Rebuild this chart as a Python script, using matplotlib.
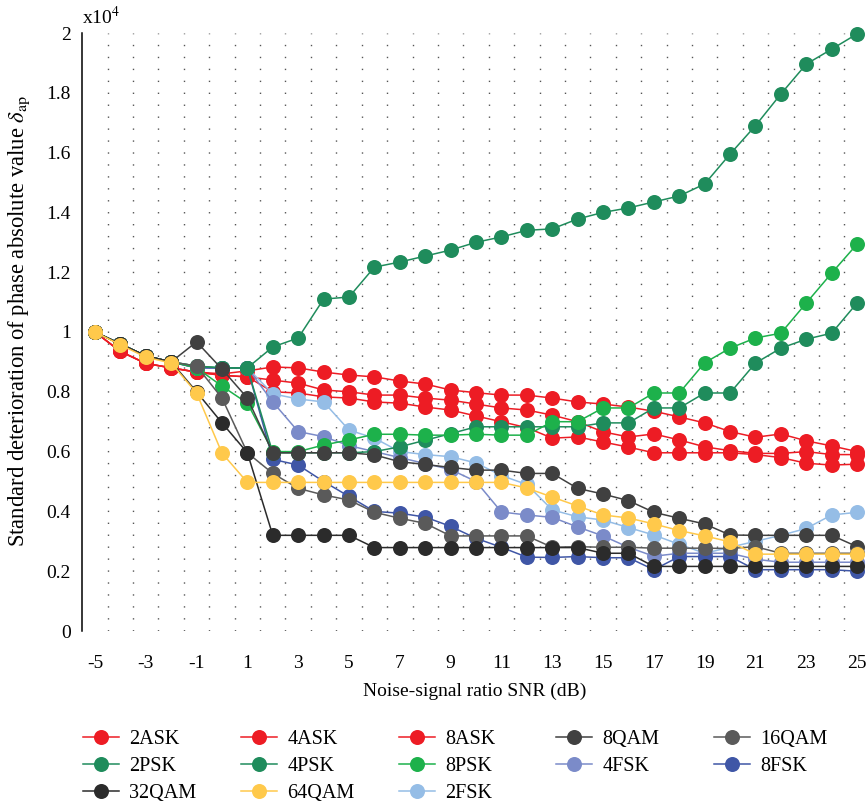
import numpy as np
import matplotlib.pyplot as plt
from matplotlib.lines import Line2D

plt.rcParams['font.family'] = ['Liberation Serif', 'DejaVu Serif']
plt.rcParams['mathtext.fontset'] = 'stix'

snr = list(range(-5, 26))

# values in units of 1e4
ask2 = [1.0, 0.935, 0.895, 0.88, 0.866, 0.86, 0.87, 0.883, 0.88, 0.866, 0.856, 0.85, 0.836, 0.826, 0.806, 0.797,
        0.789, 0.789, 0.779, 0.766, 0.759, 0.749, 0.735, 0.716, 0.696, 0.667, 0.648, 0.659, 0.636, 0.619, 0.60]
ask4 = [1.0, 0.935, 0.895, 0.88, 0.866, 0.855, 0.85, 0.839, 0.829, 0.806, 0.80, 0.789, 0.789, 0.779, 0.772, 0.759,
        0.746, 0.739, 0.722, 0.70, 0.666, 0.649, 0.659, 0.639, 0.616, 0.603, 0.594, 0.594, 0.60, 0.59, 0.59]
ask8 = [1.0, 0.935, 0.895, 0.88, 0.866, 0.855, 0.85, 0.80, 0.796, 0.783, 0.779, 0.766, 0.762, 0.749, 0.739, 0.719,
        0.70, 0.68, 0.645, 0.649, 0.632, 0.615, 0.596, 0.596, 0.596, 0.596, 0.59, 0.58, 0.561, 0.555, 0.558]
psk2 = [1.0, 0.96, 0.92, 0.90, 0.886, 0.88, 0.88, 0.95, 0.98, 1.11, 1.117, 1.217, 1.234, 1.254, 1.274, 1.30,
        1.318, 1.34, 1.345, 1.378, 1.40, 1.415, 1.435, 1.455, 1.495, 1.595, 1.69, 1.796, 1.896, 1.946, 1.997]
psk4 = [1.0, 0.96, 0.92, 0.90, 0.886, 0.88, 0.88, 0.596, 0.596, 0.596, 0.596, 0.60, 0.616, 0.638, 0.66, 0.683,
        0.683, 0.683, 0.683, 0.683, 0.696, 0.696, 0.746, 0.746, 0.796, 0.796, 0.896, 0.946, 0.976, 0.996, 1.097]
psk8 = [1.0, 0.96, 0.92, 0.90, 0.88, 0.819, 0.762, 0.60, 0.60, 0.622, 0.639, 0.658, 0.658, 0.655, 0.655, 0.658,
        0.655, 0.655, 0.70, 0.70, 0.746, 0.746, 0.796, 0.796, 0.897, 0.946, 0.98, 0.996, 1.097, 1.197, 1.294]
qam8 = [1.0, 0.96, 0.92, 0.90, 0.967, 0.876, 0.779, 0.596, 0.596, 0.596, 0.596, 0.589, 0.566, 0.557, 0.547, 0.538,
        0.538, 0.527, 0.527, 0.477, 0.458, 0.436, 0.397, 0.377, 0.358, 0.321, 0.32, 0.32, 0.32, 0.32, 0.282]
qam16 = [1.0, 0.96, 0.92, 0.90, 0.886, 0.779, 0.596, 0.527, 0.477, 0.455, 0.438, 0.397, 0.377, 0.36, 0.318, 0.318,
         0.318, 0.318, 0.28, 0.282, 0.28, 0.28, 0.277, 0.277, 0.277, 0.276, 0.282, 0.26, 0.26, 0.26, 0.26]
qam32 = [1.0, 0.96, 0.92, 0.90, 0.80, 0.696, 0.596, 0.32, 0.32, 0.32, 0.32, 0.279, 0.279, 0.279, 0.279, 0.279,
         0.279, 0.279, 0.279, 0.279, 0.26, 0.26, 0.216, 0.216, 0.216, 0.216, 0.216, 0.216, 0.216, 0.216, 0.216]
qam64 = [1.0, 0.957, 0.916, 0.896, 0.796, 0.595, 0.497, 0.497, 0.497, 0.497, 0.497, 0.497, 0.497, 0.497, 0.497, 0.497,
         0.497, 0.478, 0.448, 0.418, 0.388, 0.378, 0.358, 0.336, 0.318, 0.298, 0.257, 0.257, 0.257, 0.257, 0.257]
fsk2 = [1.0, 0.96, 0.92, 0.90, 0.88, 0.88, 0.88, 0.793, 0.776, 0.766, 0.672, 0.645, 0.60, 0.59, 0.583, 0.562,
        0.52, 0.49, 0.405, 0.382, 0.371, 0.346, 0.321, 0.29, 0.26, 0.28, 0.30, 0.32, 0.343, 0.388, 0.397]
fsk4 = [1.0, 0.96, 0.92, 0.90, 0.88, 0.88, 0.88, 0.766, 0.667, 0.65, 0.62, 0.60, 0.58, 0.56, 0.54, 0.50,
        0.398, 0.388, 0.38, 0.348, 0.318, 0.28, 0.25, 0.26, 0.26, 0.26, 0.24, 0.23, 0.23, 0.23, 0.23]
fsk8 = [1.0, 0.96, 0.92, 0.90, 0.88, 0.88, 0.88, 0.574, 0.555, 0.50, 0.45, 0.40, 0.394, 0.381, 0.35, 0.31,
        0.28, 0.247, 0.246, 0.249, 0.245, 0.245, 0.205, 0.249, 0.249, 0.249, 0.205, 0.205, 0.205, 0.205, 0.20]

RED = '#ED1C24'
DGREEN = '#1F8C5C'
LGREEN = '#1DB14B'

# name -> (values, colour); dict order is the drawing order
series = {
    '2ASK': (ask2, RED),
    '4ASK': (ask4, RED),
    '8ASK': (ask8, RED),
    '2FSK': (fsk2, '#95BDE6'),
    '4FSK': (fsk4, '#7B8BC9'),
    '8FSK': (fsk8, '#3F56A6'),
    '2PSK': (psk2, DGREEN),
    '4PSK': (psk4, DGREEN),
    '8PSK': (psk8, LGREEN),
    '8QAM': (qam8, '#404040'),
    '16QAM': (qam16, '#5A5A5A'),
    '32QAM': (qam32, '#2B2B2B'),
    '64QAM': (qam64, '#FFC94B'),
}

legend_cols = [['2ASK', '2PSK', '32QAM'],
               ['4ASK', '4PSK', '64QAM'],
               ['8ASK', '8PSK', '2FSK'],
               ['8QAM', '4FSK'],
               ['16QAM', '8FSK']]

W, H = 867, 808
fig = plt.figure(figsize=(W / 100, H / 100), dpi=100)
ax = fig.add_axes([82 / W, (H - 631) / H, 785 / W, 598 / H])

# dotted vertical guides between the SNR steps
for xv in np.arange(-4.5, 25, 1.0):
    ax.axvline(xv, color='#555555', lw=1.0, linestyle=(0, (1.0, 7.6)), zorder=0)

for name, (vals, col) in series.items():
    ax.plot(snr, vals, color=col, lw=1.1, marker='o', ms=10.8, mew=0,
            clip_on=False, zorder=2)

ax.set_xlim(-5.51, 25.39)
ax.set_ylim(0, 2.0)
for s in ['top', 'right', 'bottom']:
    ax.spines[s].set_visible(False)
ax.spines['left'].set_linewidth(1.1)

yt = np.round(np.arange(0, 2.01, 0.2), 1)
ax.set_yticks(yt)
ax.set_yticklabels([('%g' % v) for v in yt], fontsize=14)
ax.set_xticks(range(-5, 26, 2))
ax.set_xticklabels([str(v) for v in range(-5, 26, 2)], fontsize=14)
ax.tick_params(axis='y', length=0, pad=8)
ax.tick_params(axis='x', length=0, pad=17)
ax.set_xlabel('Noise-signal ratio SNR (dB)', fontsize=14, labelpad=8)

fig.text(19 / W, 1 - 321 / H, r'Standard deterioration of phase absolute value $\delta_{\mathrm{ap}}$',
         rotation=90, ha='center', va='center', fontsize=16.3)
fig.text(82 / W, 1 - 24 / H, r'x10$^4$', ha='left', va='baseline', fontsize=14)

col_x = [83, 241, 399, 556, 714]
for cx, names in zip(col_x, legend_cols):
    handles = [Line2D([], [], color=series[n][1], lw=1.1, marker='o', ms=10.8, mew=0) for n in names]
    fig.legend(handles, names, loc='upper left', bbox_to_anchor=(cx / W, 1 - 730 / H),
               frameon=False, fontsize=14.5, handlelength=1.8, handletextpad=0.5,
               labelspacing=0.38, borderpad=0, borderaxespad=0)

fig.savefig('out.png', dpi=100)
